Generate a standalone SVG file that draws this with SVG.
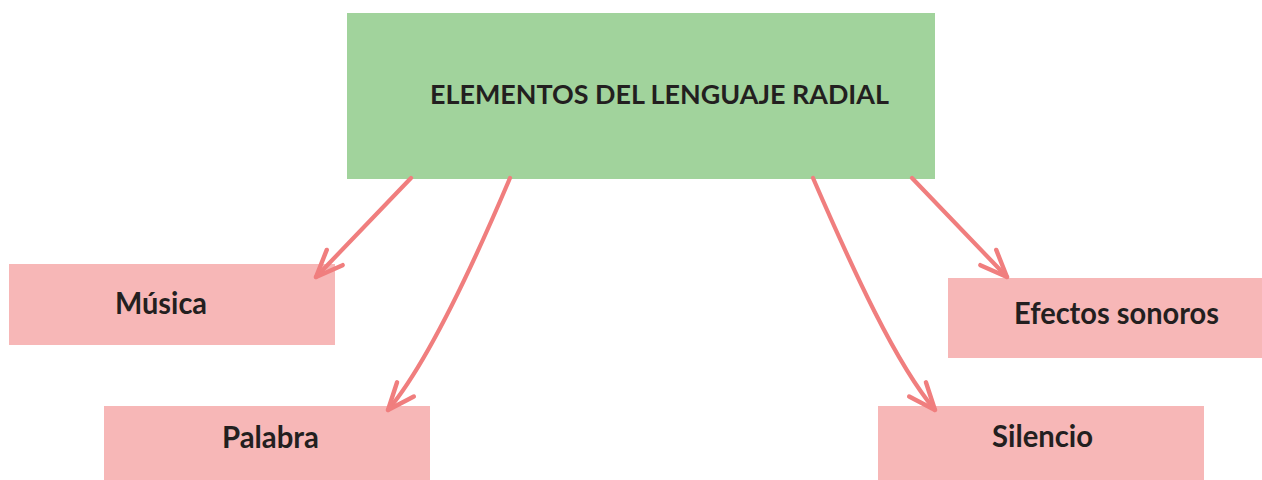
<svg xmlns="http://www.w3.org/2000/svg" width="1262" height="480" viewBox="0 0 1262 480">
<style>
  .root { fill: #A1D39C; }
  .leaf { fill: #F7B7B7; }
  .lbl { font-family: Lato, "Open Sans", "Liberation Sans", sans-serif; font-weight: bold; fill: #231F20; }
  .t1 { font-size: 27px; }
  .t2 { font-size: 30px; }
  .conn { fill: none; stroke: #F07E7E; stroke-width: 4.2; stroke-linecap: round; marker-end: url(#arr); }
</style>
<defs>
  <marker id="arr" markerUnits="userSpaceOnUse" viewBox="-32 -16 36 32" refX="0" refY="0" markerWidth="36" markerHeight="32" orient="auto" overflow="visible">
    <path d="M-27,-11 L0,0 L-27,11" fill="none" stroke="#F07E7E" stroke-width="4.4" stroke-linecap="round" stroke-linejoin="round"/>
  </marker>
</defs>
<rect width="1262" height="480" fill="#FFFFFF"/>
<g id="node-root">
  <rect class="root" x="347" y="13" width="588" height="166"/>
  <text class="lbl t1" x="430" y="104" textLength="459" lengthAdjust="spacingAndGlyphs">ELEMENTOS DEL LENGUAJE RADIAL</text>
</g>
<g id="node-musica">
  <rect class="leaf" x="9" y="264" width="326" height="81"/>
  <text class="lbl t2" x="115" y="314" textLength="92" lengthAdjust="spacingAndGlyphs">Música</text>
</g>
<g id="node-palabra">
  <rect class="leaf" x="104" y="406" width="326" height="74"/>
  <text class="lbl t2" x="222" y="448" textLength="97" lengthAdjust="spacingAndGlyphs">Palabra</text>
</g>
<g id="node-efectos">
  <rect class="leaf" x="948" y="278" width="314" height="80"/>
  <text class="lbl t2" x="1014" y="324" textLength="205" lengthAdjust="spacingAndGlyphs">Efectos sonoros</text>
</g>
<g id="node-silencio">
  <rect class="leaf" x="878" y="406" width="326" height="74"/>
  <text class="lbl t2" x="992" y="447" textLength="101" lengthAdjust="spacingAndGlyphs">Silencio</text>
</g>
<g id="connectors">
  <path class="conn" d="M411,178 L316,277"/>
  <path class="conn" d="M510,178 C471,270 427,364 388,410"/>
  <path class="conn" d="M813,178 C853,270 896,364 935,410"/>
  <path class="conn" d="M912,178 L1007,277"/>
</g>
</svg>
